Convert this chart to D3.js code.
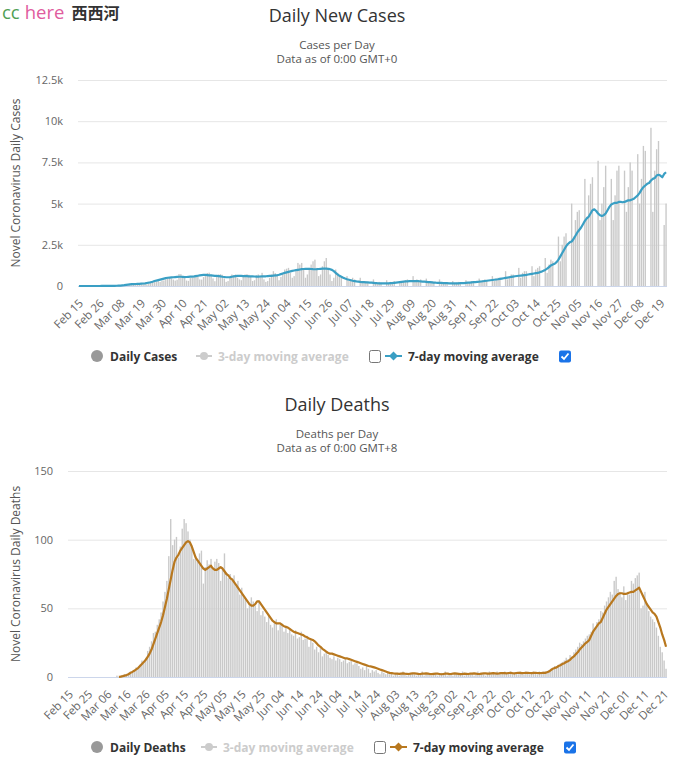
<!DOCTYPE html>
<html><head><meta charset="utf-8">
<script src="https://cdn.jsdelivr.net/npm/d3@7"></script>
<style>
body{margin:0;background:#fff;}
text{font-family:"Open Sans","Noto Sans",sans-serif;}
</style></head><body>
<svg id="c" width="675" height="768"></svg>
<script>
// ---------- DATA ----------
const startDate = "2020-02-15";
const casesTicks = ["Feb 15","Feb 26","Mar 08","Mar 19","Mar 30","Apr 10","Apr 21","May 02","May 13","May 24","Jun 04","Jun 15","Jun 26","Jul 07","Jul 18","Jul 29","Aug 09","Aug 20","Aug 31","Sep 11","Sep 22","Oct 03","Oct 14","Oct 25","Nov 05","Nov 16","Nov 27","Dec 08","Dec 19"];
const deathsTicks = ["Feb 15","Feb 25","Mar 06","Mar 16","Mar 26","Apr 05","Apr 15","Apr 25","May 05","May 15","May 25","Jun 04","Jun 14","Jun 24","Jul 04","Jul 14","Jul 24","Aug 03","Aug 13","Aug 23","Sep 02","Sep 12","Sep 22","Oct 02","Oct 12","Oct 22","Nov 01","Nov 11","Nov 21","Dec 01","Dec 11","Dec 21"];
const casesYTicks = [0,2500,5000,7500,10000,12500];
const casesYLabels = ["0","2.5k","5k","7.5k","10k","12.5k"];
const deathsYTicks = [0,50,100,150];
const deathsYLabels = ["0","50","100","150"];

const casesDaily = [
0,0,0,0,0,0,0,
0,0,0,0,1,5,6,
2,0,1,15,8,36,35,
26,24,48,45,60,93,150,
120,80,100,110,100,120,160,
150,100,130,200,300,240,250,
300,250,330,340,400,480,500,
460,390,330,380,730,720,540,
470,330,310,480,500,610,680,
600,400,390,540,680,790,810,
700,460,290,600,700,720,680,
460,250,300,500,700,650,700,
500,400,350,600,700,720,680,
550,300,350,650,700,630,800,
400,250,300,500,700,900,780,
600,350,550,800,1000,1050,1100,
800,500,600,900,1400,1300,1400,
1000,500,700,1100,1300,1500,1600,
1100,600,700,1200,1500,1700,1100,
700,300,500,1000,800,600,500,
0,0,600,300,400,500,400,
0,0,500,200,300,300,250,
0,0,400,200,200,250,200,
0,0,350,150,250,250,300,
0,0,300,200,300,350,400,
0,0,600,250,400,350,400,
0,0,450,200,300,300,250,
0,0,400,150,200,200,200,
0,0,300,150,200,250,200,
0,0,350,200,250,300,300,
0,0,450,250,350,400,350,
0,0,600,300,450,500,500,
0,0,900,400,600,700,700,
0,0,1100,500,800,900,900,
0,0,1200,600,1000,1100,1200,
0,0,1700,800,1300,1600,1500,
0,0,3000,1500,2500,3000,3200,
0,0,5000,3000,4000,4500,4600,
0,0,6500,4200,5500,6200,6600,
0,0,7600,4000,5000,6000,7300,
0,0,6500,4000,5500,7000,7300,
0,0,7000,4500,6000,7500,7000,
0,0,8000,5000,6500,8500,8200,
0,0,9600,4500,7000,8300,8800,
0,0,3700,5000];

const casesAvg7 = [
0,0,0,0,0,0,0,0,0,0,0,1,2,2,3,4,5,7,9,12,14,
20,28,38,50,65,80,95,110,115,120,
125,130,140,150,160,180,200,230,260,300,
330,360,390,420,450,480,500,510,520,530,
540,550,560,560,550,540,545,555,565,570,
580,600,620,640,660,670,670,665,650,640,
630,620,610,600,580,560,545,530,530,540,
560,580,600,610,615,610,605,600,595,590,
585,580,575,570,570,575,580,585,590,600,
610,620,630,640,650,680,720,760,800,830,
860,890,920,940,960,980,1000,1020,1030,1040,
1045,1040,1030,1020,1015,1020,1030,1040,1050,1055,
1050,1040,1020,980,900,800,700,620,560,500,
450,410,380,350,320,300,280,265,250,240,
230,222,215,210,200,190,180,170,165,160,
158,155,155,160,170,180,195,210,225,240,
255,265,275,285,290,295,300,300,295,290,
280,270,260,250,240,230,220,210,200,195,
190,185,180,175,170,165,162,160,160,162,
165,170,175,180,190,200,210,220,230,240,
250,260,275,290,305,320,335,350,365,380,
395,410,430,450,470,490,510,530,550,570,
590,605,620,635,650,665,680,700,720,740,
760,780,800,830,870,920,975,1050,1150,1250,
1300,1350,1450,1600,1800,2000,2200,2400,2550,2650,
2700,2850,3050,3250,3400,3550,3750,3950,4100,4200,
4400,4600,4650,4550,4400,4300,4250,4300,4400,4600,
4800,4950,5000,5050,5050,5100,5100,5080,5100,5150,
5200,5200,5250,5300,5400,5500,5650,5850,6000,6100,
6200,6250,6400,6500,6550,6700,6750,6700,6600,6800,6900];

const deathsDaily = [
0,0,0,0,0,0,0,0,0,0,
0,0,0,0,0,0,0,0,0,0,
0,0,0,0,0,1,0,1,1,2,
2,3,4,4,5,7,6,9,12,10,
14,19,22,26,32,33,38,42,47,55,
62,70,88,115,96,100,102,87,95,108,
115,112,106,100,94,86,88,84,90,92,
68,80,85,82,86,78,84,86,83,70,
79,90,76,72,75,70,74,66,70,60,
65,58,56,50,54,58,55,52,48,56,
45,48,44,40,45,38,36,40,42,34,
38,39,33,36,32,35,31,30,34,28,
29,33,27,28,30,22,27,25,20,22,
18,21,15,17,19,16,14,13,15,12,
14,13,11,12,13,10,11,12,9,10,
10,8,6,7,5,8,6,3,5,4,
5,3,2,4,3,2,3,2,3,1,
2,3,1,2,4,2,1,3,2,3,
2,1,3,2,4,1,2,3,2,1,
3,2,1,2,3,2,4,1,2,3,
1,2,3,2,2,4,1,3,2,2,
3,1,2,4,2,3,2,1,3,4,
2,3,2,4,3,2,3,4,2,3,
4,2,3,3,2,4,3,2,4,3,
2,3,4,3,2,4,3,4,4,3,
5,6,5,8,7,9,10,11,12,14,
13,16,15,18,20,22,25,24,26,28,
30,31,33,39,36,40,42,48,47,52,
55,58,62,60,70,73,64,62,58,66,
56,62,60,70,68,72,74,76,50,52,
62,54,48,44,42,40,36,30,22,18,
12,6];

const deathsAvg7 = [
null,null,null,null,null,null,null,null,null,null,
null,null,null,null,null,null,null,null,null,null,
null,null,null,null,null,null,
0.1,0.3,0.6,1,1.4,2,3,3.7,4.5,5.5,
6.5,8,9.5,11,12.5,14.6,17,20,24,28,
32,36,40,45,51,57,64,71,78,84,
87,89,92,94,96,98,99,98,95,91,
87,85,83,81,79,78,79,80,81,79,
78,78,79,80,79,77,75,74,72,71,
69,67,65,63,61,59,57,55,53,52,
52,53,55,55,53,51,49,47,45,43,
41,40,39,39,39,38,37,36.5,36,35,
34,33,32.5,32,31.5,31,30.5,29.5,29,28,
27.5,27,26,24.5,23,22,20.5,19.5,18.5,17.5,
17,17,16.5,16,15.5,15,14.5,14,13.5,13.5,
13,12.5,12,11.5,11,10.5,10,9.5,9,8.5,
8,7.8,7.4,7,6.5,6,5.5,5,4.5,4,
3.5,3,2.8,2.6,2.5,2.4,2.3,2.5,2.6,2.4,
2.3,2.2,2.4,2.6,2.7,2.5,2.3,2.2,2.4,2.5,
2.6,2.4,2.2,2.1,2.3,2.5,2.4,2.2,2.0,2.2,
2.4,2.5,2.3,2.2,2.4,2.6,2.5,2.3,2.1,2.2,
2.4,2.3,2.2,2.4,2.5,2.6,2.4,2.2,2.3,2.5,
2.6,2.7,2.5,2.4,2.6,2.8,2.7,2.5,2.6,2.8,
2.9,2.8,2.7,2.9,3.0,2.8,2.7,2.9,3.1,3.0,
2.8,2.9,3.1,3.0,2.9,2.8,3.0,3.1,2.9,2.8,
2.9,3.0,3,3.5,4,5,6,6.5,7,8,
8.5,9.5,10,11,11.5,12.5,14,15,16.5,18,
20,21.5,23,24.5,25.5,27,30,33,35,37,
39,40,43,46,49,51,53,55,57,59,
60.5,61,61,60.5,60.5,61,61.5,62,62,63,
64,65,62,59,56,53,51,49,47,46,
44,40,36,31,27,22];

// ---------- RENDER ----------
const svg = d3.select("#c");
const fmt = d3.timeFormat("%b %d");
const parse = d3.timeParse("%Y-%m-%d");

// logo
const logo = svg.append("text").attr("x",2).attr("y",19).attr("font-size",18.5);
logo.append("tspan").attr("fill","#4f9f55").text("cc");
logo.append("tspan").attr("dx",5).attr("fill","#e05c9e").text("here");
logo.append("tspan").attr("dx",7).attr("fill","#333").attr("font-weight","bold").attr("font-size",16)
  .attr("font-family","Noto Sans CJK SC").text("西西河");

function drawChart(cfg){
  const n = Math.max(cfg.daily.length, cfg.avg.length);
  const cats = d3.range(n).map(i => fmt(d3.timeDay.offset(parse(startDate), i)));
  const g = svg.append("g");
  const x = d3.scaleBand().domain(cats).range([cfg.left, cfg.right]).padding(0);
  const y = d3.scaleLinear().domain([0, cfg.ymax]).range([cfg.bottom, cfg.top]);

  g.append("text").attr("x",337).attr("y",cfg.titleY).attr("text-anchor","middle")
    .attr("font-size",18).attr("fill","#333").text(cfg.title);
  g.append("text").attr("x",337).attr("y",cfg.titleY+26.5).attr("text-anchor","middle")
    .attr("font-size",11.5).attr("fill","#555").text(cfg.sub1);
  g.append("text").attr("x",337).attr("y",cfg.titleY+40.5).attr("text-anchor","middle")
    .attr("font-size",11.5).attr("fill","#555").text(cfg.sub2);

  // grid
  g.selectAll(".grid").data(cfg.yTicks.slice(1)).join("line")
    .attr("x1",cfg.left).attr("x2",cfg.right)
    .attr("y1",d=>y(d)+0.5).attr("y2",d=>y(d)+0.5)
    .attr("stroke","#e6e6e6").attr("stroke-width",1);

  // y labels
  g.selectAll(".yl").data(cfg.yTicks).join("text")
    .attr("x",cfg.left-15).attr("y",d=>y(d)+4).attr("text-anchor","end")
    .attr("font-size",11).attr("fill","#666").text((d,i)=>cfg.yLabels[i]);

  // y title
  g.append("text").attr("transform",`translate(${cfg.ytitleX},${(cfg.top+cfg.bottom)/2}) rotate(-90)`)
    .attr("text-anchor","middle").attr("font-size",12).attr("fill","#555").text(cfg.ytitle);

  // bars
  const bw = x.bandwidth()*0.72;
  g.selectAll(".bar").data(cfg.daily.map((v,i)=>({c:cats[i],v})).filter(d=>d.v>0)).join("rect")
    .attr("x",d=>x(d.c)+(x.bandwidth()-bw)/2).attr("width",bw)
    .attr("y",d=>y(d.v)).attr("height",d=>cfg.bottom-y(d.v))
    .attr("fill","#c9c9c9");

  // axis line
  g.append("line").attr("x1",cfg.left).attr("x2",cfg.right).attr("y1",cfg.bottom+0.5).attr("y2",cfg.bottom+0.5)
    .attr("stroke","#ccd6eb");

  // x axis labels via d3 axis
  const ax = d3.axisBottom(x).tickValues(cfg.xTicks).tickSize(0).tickPadding(0);
  const axg = g.append("g").attr("transform",`translate(0,${cfg.bottom})`).call(ax);
  axg.select(".domain").remove();
  axg.selectAll("text").attr("font-size",11.5).attr("fill","#666")
    .attr("font-family","'Open Sans','Noto Sans',sans-serif")
    .attr("text-anchor","end").attr("dy",null).attr("y",null)
    .attr("transform","translate(5,18) rotate(-45)");

  // avg line
  const line = d3.line().defined(d=>d!=null)
    .x((d,i)=>x(cats[i])+x.bandwidth()/2).y(d=>y(d));
  g.append("path").datum(cfg.avg).attr("d",line).attr("fill","none")
    .attr("stroke",cfg.color).attr("stroke-width",2.2).attr("stroke-linejoin","round");

  // legend
  const ly = cfg.legendY;
  g.append("circle").attr("cx",97).attr("cy",ly).attr("r",6).attr("fill","#999");
  g.append("text").attr("x",110).attr("y",ly+4.5).attr("font-size",12).attr("font-weight","bold")
    .attr("fill","#333").text(cfg.legend0);
  const l1 = cfg.l1x;
  g.append("line").attr("x1",l1).attr("x2",l1+16).attr("y1",ly).attr("y2",ly).attr("stroke","#ccc").attr("stroke-width",2);
  g.append("circle").attr("cx",l1+8).attr("cy",ly).attr("r",4).attr("fill","#ccc");
  g.append("text").attr("x",l1+22).attr("y",ly+4.5).attr("font-size",12).attr("font-weight","bold")
    .attr("fill","#ccc").text("3-day moving average");
  g.append("rect").attr("x",l1+173.5).attr("y",ly-5.5).attr("width",11).attr("height",12).attr("rx",2)
    .attr("fill","#fff").attr("stroke","#777");
  const l2 = l1+189;
  g.append("line").attr("x1",l2).attr("x2",l2+17).attr("y1",ly).attr("y2",ly).attr("stroke",cfg.color).attr("stroke-width",2);
  g.append("path").attr("d",`M${l2+8.5},${ly-4.5}L${l2+13},${ly}L${l2+8.5},${ly+4.5}L${l2+4},${ly}Z`).attr("fill",cfg.color);
  g.append("text").attr("x",l2+23).attr("y",ly+4.5).attr("font-size",12).attr("font-weight","bold")
    .attr("fill","#333").text("7-day moving average");
  g.append("rect").attr("x",l2+174).attr("y",ly-5.5).attr("width",12).attr("height",12).attr("rx",2)
    .attr("fill","#1a73e8");
  g.append("path").attr("d",`M${l2+176.5},${ly+0.5}L${l2+179},${ly+3}L${l2+183.5},${ly-2.5}`)
    .attr("fill","none").attr("stroke","#fff").attr("stroke-width",1.8);
}

drawChart({title:"Daily New Cases", sub1:"Cases per Day", sub2:"Data as of 0:00 GMT+0", titleY:22,
  left:78, right:667, top:80, bottom:286, ymax:12500, yTicks:casesYTicks, yLabels:casesYLabels,
  ytitle:"Novel Coronavirus Daily Cases", ytitleX:20, daily:casesDaily, avg:casesAvg7, xTicks:casesTicks,
  color:"#3a9fc4", legendY:356, legend0:"Daily Cases", l1x:196});
drawChart({title:"Daily Deaths", sub1:"Deaths per Day", sub2:"Data as of 0:00 GMT+8", titleY:411,
  left:68, right:667, top:471, bottom:677, ymax:150, yTicks:deathsYTicks, yLabels:deathsYLabels,
  ytitle:"Novel Coronavirus Daily Deaths", ytitleX:20, daily:deathsDaily, avg:deathsAvg7, xTicks:deathsTicks,
  color:"#b8781f", legendY:747, legend0:"Daily Deaths", l1x:201});
</script>
</body></html>
